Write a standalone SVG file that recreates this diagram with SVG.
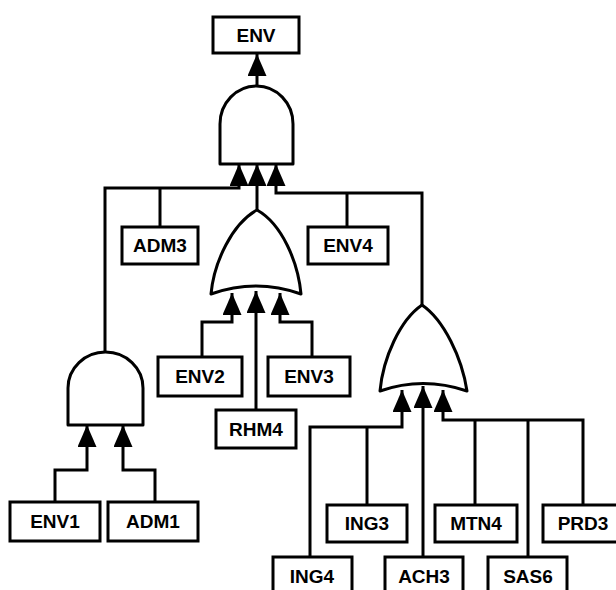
<svg xmlns="http://www.w3.org/2000/svg" width="616" height="590" viewBox="0 0 616 590">
<style>
.box{fill:#fff;stroke:#000;stroke-width:3}
.gate{fill:#fff;stroke:#000;stroke-width:3;stroke-linejoin:round}
.lbl{font-family:"Liberation Sans",Arial,sans-serif;font-weight:bold;font-size:19px;text-anchor:middle;fill:#000}
.wire{fill:none;stroke:#000;stroke-width:3}
.arr{fill:none;stroke:#000;stroke-width:3;marker-end:url(#ah)}
</style>
<defs>
<marker id="ah" viewBox="0 0 22 19" refX="22" refY="9.5" markerWidth="22" markerHeight="19" markerUnits="userSpaceOnUse" orient="auto">
<path d="M0,0 L22,9.5 L0,19 Z" fill="#000"/>
</marker>
</defs>
<rect width="616" height="590" fill="#fff"/>
<g id="connectors">
<path class="arr" d="M257,87 L257,54"/>
<path class="arr" d="M105,352 L105,188 L239,188 L239,164"/>
<path class="wire" d="M160,227 L160,188"/>
<path class="arr" d="M257,210 L257,164"/>
<path class="arr" d="M422,305 L422,193 L276,193 L276,164"/>
<path class="wire" d="M347,227 L347,193"/>
<path class="arr" d="M202,357 L202,322 L232,322 L232,293"/>
<path class="arr" d="M256,410 L256,291"/>
<path class="arr" d="M312,357 L312,322 L280,322 L280,293"/>
<path class="arr" d="M55,502 L55,470 L87,470 L87,425"/>
<path class="arr" d="M155,502 L155,470 L123,470 L123,425"/>
<path class="arr" d="M310,557 L310,427 L402,427 L402,390"/>
<path class="wire" d="M367,505 L367,427"/>
<path class="arr" d="M423,557 L423,386"/>
<path class="arr" d="M583,505 L583,420 L443,420 L443,390"/>
<path class="wire" d="M475,505 L475,420"/>
<path class="wire" d="M528,557 L528,420"/>
</g>
<g id="gate-top-and"><path class="gate" d="M220,164 L220,124 A36.5,38 0 0 1 293,124 L293,164 Z"/></g>
<g id="gate-left-and"><path class="gate" d="M68,425 L68,388 A37.5,36 0 0 1 143,388 L143,425 Z"/></g>
<g id="gate-mid-or"><path class="gate" d="M211,294 C214,262 232,224 257,210 C282,224 298,262 301,294 Q256,278 211,294 Z"/></g>
<g id="gate-right-or"><path class="gate" d="M380,391 C383,358 400,320 422,305 C444,320 462,358 467,391 Q423,376 380,391 Z"/></g>
<g id="ENV"><rect class="box" x="213" y="17" width="86" height="36"/><text class="lbl" x="256" y="42">ENV</text></g>
<g id="ADM3"><rect class="box" x="122" y="227" width="76" height="37"/><text class="lbl" x="160" y="252">ADM3</text></g>
<g id="ENV4"><rect class="box" x="308" y="227" width="80" height="37"/><text class="lbl" x="348" y="252">ENV4</text></g>
<g id="ENV2"><rect class="box" x="158" y="357" width="84" height="39"/><text class="lbl" x="200" y="383">ENV2</text></g>
<g id="ENV3"><rect class="box" x="268" y="357" width="82" height="39"/><text class="lbl" x="309" y="383">ENV3</text></g>
<g id="RHM4"><rect class="box" x="216" y="410" width="80" height="38"/><text class="lbl" x="256" y="436">RHM4</text></g>
<g id="ENV1"><rect class="box" x="10" y="502" width="90" height="39"/><text class="lbl" x="55" y="528">ENV1</text></g>
<g id="ADM1"><rect class="box" x="108" y="502" width="90" height="39"/><text class="lbl" x="153" y="528">ADM1</text></g>
<g id="ING3"><rect class="box" x="327" y="505" width="80" height="37"/><text class="lbl" x="367" y="530">ING3</text></g>
<g id="MTN4"><rect class="box" x="435" y="505" width="82" height="37"/><text class="lbl" x="476" y="530">MTN4</text></g>
<g id="PRD3"><rect class="box" x="543" y="505" width="80" height="37"/><text class="lbl" x="583" y="530">PRD3</text></g>
<g id="ING4"><rect class="box" x="273" y="557" width="79" height="45"/><text class="lbl" x="312" y="583">ING4</text></g>
<g id="ACH3"><rect class="box" x="385" y="557" width="78" height="45"/><text class="lbl" x="424" y="583">ACH3</text></g>
<g id="SAS6"><rect class="box" x="488" y="557" width="79" height="45"/><text class="lbl" x="528" y="583">SAS6</text></g>
</svg>
